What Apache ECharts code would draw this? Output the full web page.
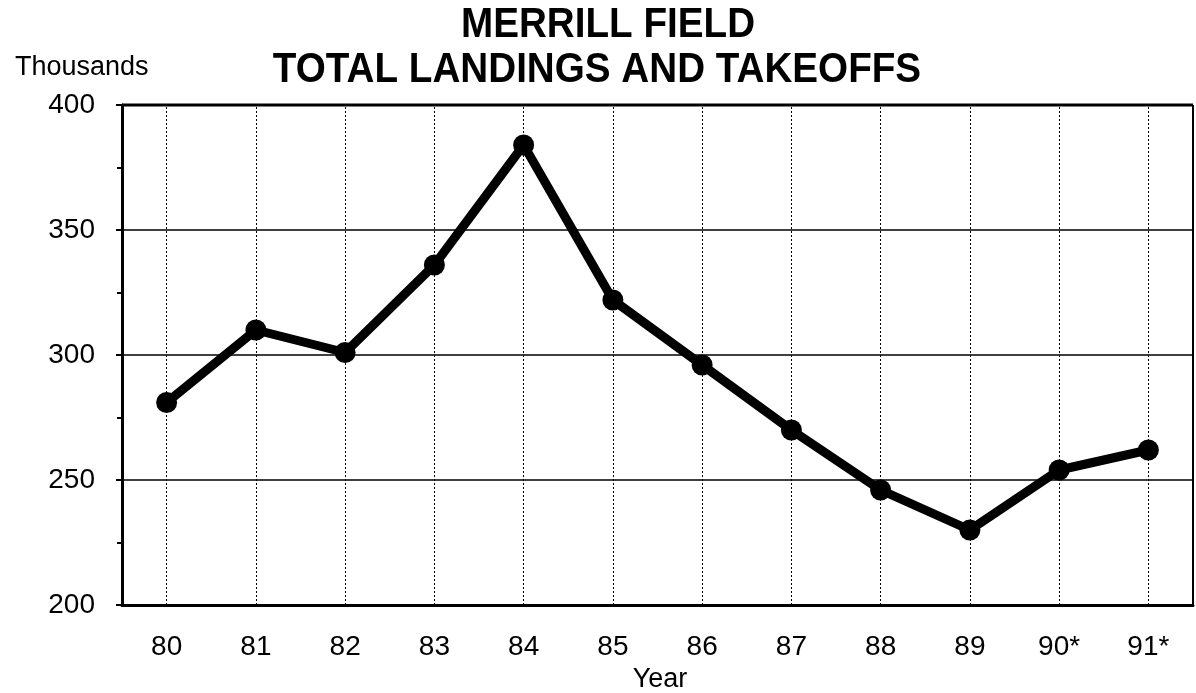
<!DOCTYPE html>
<html><head><meta charset="utf-8">
<script src="https://cdn.jsdelivr.net/npm/echarts@6/dist/echarts.min.js"></script>
<style>html,body{margin:0;padding:0;background:#fff}#c{width:1196px;height:693px}</style>
</head><body><div id="c"></div>
<script>
const categories = ['80','81','82','83','84','85','86','87','88','89','90*','91*'];
const landings = [281, 310, 301, 336, 384, 322, 296, 270, 246, 230, 254, 262];
const titleLines = ['MERRILL FIELD', 'TOTAL LANDINGS AND TAKEOFFS'];
const yUnit = 'Thousands';
const xName = 'Year';

const chart = echarts.init(document.getElementById('c'));
const font = 'Liberation Sans, Arial, sans-serif';
const titleStyle = {fontFamily: font, fontWeight: 'bold', fontSize: 42, fill: '#000', align: 'center', verticalAlign: 'middle'};
chart.setOption({
  backgroundColor: '#fff',
  animation: false,
  grid: {left: 122, right: 3, top: 105, bottom: 88, containLabel: false, outerBoundsMode: 'none'},
  xAxis: {
    type: 'category', data: categories, boundaryGap: true,
    name: xName, nameLocation: 'middle', nameGap: 54,
    nameTextStyle: {fontFamily: font, fontSize: 27, color: '#000', padding: [0, 0, 0, 5]},
    axisLine: {lineStyle: {color: '#000', width: 3}},
    axisTick: {alignWithLabel: true, length: 10, lineStyle: {color: '#000', width: 2}},
    axisLabel: {fontFamily: font, fontSize: 28, color: '#000', margin: 28},
    splitLine: {show: false}
  },
  yAxis: {
    type: 'value', min: 200, max: 400, interval: 50,
    name: yUnit, nameLocation: 'end', nameGap: 24,
    nameTextStyle: {fontFamily: font, fontSize: 27, color: '#000', align: 'left', padding: [0, 0, 0, -107]},
    axisLine: {show: true, lineStyle: {color: '#000', width: 3}},
    axisTick: {show: true, length: 6, lineStyle: {color: '#000', width: 2}},
    minorTick: {show: true, splitNumber: 2, length: 5, lineStyle: {color: '#000', width: 2}},
    axisLabel: {fontFamily: font, fontSize: 28, color: '#000', margin: 27, padding: [6, 0, 0, 0]},
    splitLine: {show: true, lineStyle: {color: '#000', width: 1.5}}
  },
  series: [{
    type: 'line', data: landings,
    symbol: 'circle', symbolSize: 21,
    lineStyle: {color: '#000', width: 9},
    itemStyle: {color: '#000'},
    z: 5,
    markLine: {
      silent: true, symbol: ['none', 'none'], label: {show: false},
      lineStyle: {color: '#000', width: 1, type: [2, 2]},
      data: categories.map(c => ({xAxis: c}))
    }
  }],
  graphic: [
    {type: 'text', x: 608, y: 25, scaleX: 0.92, style: Object.assign({text: titleLines[0]}, titleStyle)},
    {type: 'text', x: 597, y: 70, scaleX: 0.92, style: Object.assign({text: titleLines[1]}, titleStyle)},
    {type: 'line', shape: {x1: 122, y1: 105, x2: 1193, y2: 105}, style: {stroke: '#000', lineWidth: 3}},
    {type: 'line', shape: {x1: 1193, y1: 105, x2: 1193, y2: 605}, style: {stroke: '#000', lineWidth: 2}}
  ]
});
</script></body></html>
